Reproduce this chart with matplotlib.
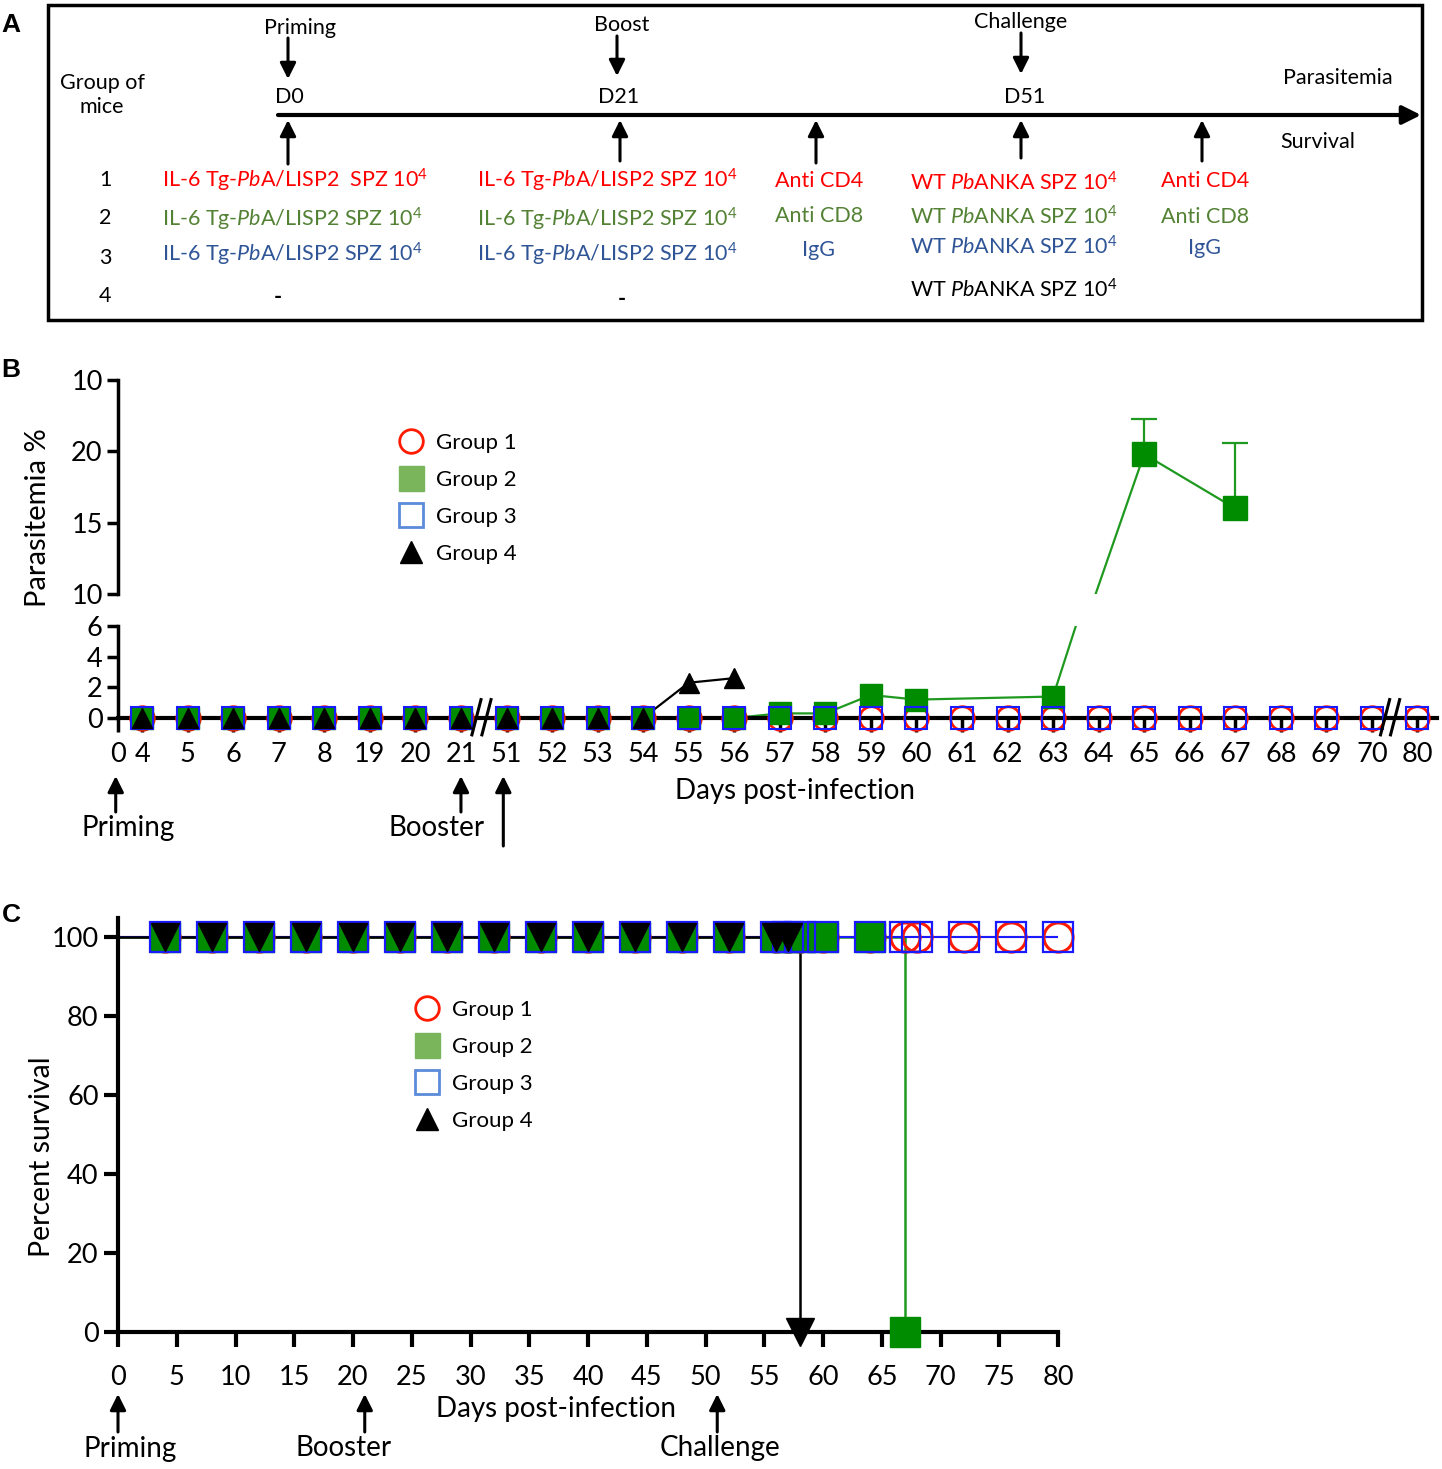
"""Prime-boost-challenge figure: protocol (A), parasitemia (B), survival (C)."""

import matplotlib
matplotlib.use("Agg")
import matplotlib.pyplot as plt
from matplotlib.lines import Line2D
from matplotlib.patches import Rectangle
from matplotlib.transforms import blended_transform_factory

plt.rcParams["font.family"] = ["Lato", "DejaVu Sans"]
plt.rcParams["mathtext.fontset"] = "custom"
plt.rcParams["mathtext.rm"] = "Lato"
plt.rcParams["mathtext.it"] = "Lato:italic"

# ---- data: panel B (parasitemia %, categorical days) ----
days_b = [4, 5, 6, 7, 8, 19, 20, 21, 51, 52, 53, 54, 55, 56, 57, 58, 59, 60,
          61, 62, 63, 64, 65, 66, 67, 68, 69, 70, 80]
g1_par = [0, 0, 0, 0, 0, 0, 0, 0, 0, 0, 0, 0, 0, 0, 0, 0, 0, 0,
          0, 0, 0, 0, 0, 0, 0, 0, 0, 0, 0]
g3_par = [0, 0, 0, 0, 0, 0, 0, 0, 0, 0, 0, 0, 0, 0, 0, 0, 0, 0,
          0, 0, 0, 0, 0, 0, 0, 0, 0, 0, 0]
g2_days = [4, 5, 6, 7, 8, 19, 20, 21, 51, 52, 53, 54, 55, 56, 57, 58, 59, 60, 63, 65, 67]
g2_par = [0, 0, 0, 0, 0, 0, 0, 0, 0, 0, 0, 0, 0, 0, 0.3, 0.3, 1.5, 1.2, 1.4, 19.8, 16.0]
g2_err_days = [65, 67]
g2_err_up = [2.5, 4.6]
g4_days = [4, 5, 6, 7, 8, 19, 20, 21, 51, 52, 53, 54, 55, 56]
g4_par = [0, 0, 0, 0, 0, 0, 0, 0, 0, 0, 0, 0, 2.3, 2.6]
upper_ticks = [10, 15, 20, 25]
upper_ticklabels = ["10", "15", "20", "10"]

# ---- data: panel C (percent survival) ----
g1_t = [0, 4, 8, 12, 16, 20, 24, 28, 32, 36, 40, 44, 48, 52, 56, 57, 58, 60, 64, 67, 68, 72, 76, 80]
g1_s = [100, 100, 100, 100, 100, 100, 100, 100, 100, 100, 100, 100, 100, 100, 100, 100, 100,
        100, 100, 100, 100, 100, 100, 100]
g3_t = [0, 4, 8, 12, 16, 20, 24, 28, 32, 36, 40, 44, 48, 52, 56, 57, 58, 60, 64, 67, 68, 72, 76, 80]
g3_s = [100, 100, 100, 100, 100, 100, 100, 100, 100, 100, 100, 100, 100, 100, 100, 100, 100,
        100, 100, 100, 100, 100, 100, 100]
g2_t = [0, 4, 8, 12, 16, 20, 24, 28, 32, 36, 40, 44, 48, 52, 56, 57, 58, 60, 64, 67]
g2_s = [100, 100, 100, 100, 100, 100, 100, 100, 100, 100, 100, 100, 100, 100, 100, 100, 100,
        100, 100, 0]
g4_t = [0, 4, 8, 12, 16, 20, 24, 28, 32, 36, 40, 44, 48, 52, 56, 57, 58]
g4_s = [100, 100, 100, 100, 100, 100, 100, 100, 100, 100, 100, 100, 100, 100, 100, 100, 0]

RED, GREEN, BLUE, BLACK = "#ff1a00", "#008c00", "#1a1aff", "black"
LINE_GREEN = "#1f991f"
TXT_RED, TXT_GREEN, TXT_BLUE = "#ff0000", "#548235", "#2f5597"

W, H = 1442, 1469
fig = plt.figure(figsize=(W / 100, H / 100), dpi=100)


def fax(x0, y0, x1, y1):
    return fig.add_axes([x0 / W, 1 - y1 / H, (x1 - x0) / W, (y1 - y0) / H])


ov = fig.add_axes([0, 0, 1, 1])
ov.set_xlim(0, W)
ov.set_ylim(H, 0)
ov.axis("off")

arrow_kw = dict(arrowstyle="-|>", color="black", lw=2.2, mutation_scale=24,
                shrinkA=0, shrinkB=0)


def arrow(x0, y0, x1, y1, trans=None, **kw):
    p = dict(arrow_kw)
    p.update(kw)
    t = trans if trans is not None else ov.transData
    ov.annotate("", xy=(x1, y1), xytext=(x0, y0), xycoords=t, textcoords=t,
                arrowprops=p)


# ================= Panel A =================
ov.add_patch(Rectangle((48, 5), 1374, 315, fill=False, lw=2.5, ec="black"))
fsA = 15.5
ov.text(102, 95, "Group of\nmice", ha="center", va="center", fontsize=fsA, linespacing=1.3)
for lab, x, y in [("Priming", 300, 28), ("Boost", 622, 25), ("Challenge", 1021, 22)]:
    ov.text(x, y, lab, ha="center", va="center", fontsize=fsA)
for lab, x in [("D0", 289), ("D21", 619), ("D51", 1025)]:
    ov.text(x, 97, lab, ha="center", va="center", fontsize=fsA)
for x, y0, y1 in [(288, 38, 79), (617, 36, 76), (1021, 33, 74)]:
    arrow(x, y0, x, y1)
arrow(278, 115, 1421, 115, lw=3, mutation_scale=28)
for x, y0 in [(288, 164), (620, 161), (816, 163), (1021, 158), (1202, 161)]:
    arrow(x, y0, x, 120)
ov.text(1338, 78, "Parasitemia", ha="center", va="center", fontsize=fsA)
ov.text(1318, 142, "Survival", ha="center", va="center", fontsize=fsA)
for lab, y in [("1", 180), ("2", 218), ("3", 258), ("4", 296)]:
    ov.text(105, y, lab, ha="center", va="center", fontsize=fsA)
tg1 = r"IL-6 Tg-$\mathit{Pb}$A/LISP2  SPZ 10$^4$"
tg = r"IL-6 Tg-$\mathit{Pb}$A/LISP2 SPZ 10$^4$"
wt = r"WT $\mathit{Pb}$ANKA SPZ 10$^4$"
ov.text(295, 180, tg1, ha="center", va="center", fontsize=fsA, color=TXT_RED)
ov.text(607, 180, tg, ha="center", va="center", fontsize=fsA, color=TXT_RED)
for (y, c) in [(219, TXT_GREEN), (254, TXT_BLUE)]:
    ov.text(292, y, tg, ha="center", va="center", fontsize=fsA, color=c)
    ov.text(607, y, tg, ha="center", va="center", fontsize=fsA, color=c)
ov.text(278, 297, "-", ha="center", va="center", fontsize=fsA, fontweight="bold")
ov.text(622, 299, "-", ha="center", va="center", fontsize=fsA, fontweight="bold")
for lab, y, c in [("Anti CD4", 181, TXT_RED), ("Anti CD8", 216, TXT_GREEN), ("IgG", 250, TXT_BLUE)]:
    ov.text(819, y, lab, ha="center", va="center", fontsize=fsA, color=c)
for lab, y, c in [("Anti CD4", 181, TXT_RED), ("Anti CD8", 217, TXT_GREEN), ("IgG", 248, TXT_BLUE)]:
    ov.text(1205, y, lab, ha="center", va="center", fontsize=fsA, color=c)
for y, c in [(183, TXT_RED), (217, TXT_GREEN), (247, TXT_BLUE), (290, "black")]:
    ov.text(1014, y, wt, ha="center", va="center", fontsize=fsA, color=c)

# ================= Panel B =================
axb = fax(118, 626, 1437, 718)
axu = fax(118, 380, 1437, 594)
pos = {d: i for i, d in enumerate(days_b)}
xmin, xmax = -0.53, 28.43
for ax in (axb, axu):
    ax.set_xlim(xmin, xmax)
    ax.patch.set_alpha(0)
    for s in ("top", "right"):
        ax.spines[s].set_visible(False)
    ax.spines["left"].set_linewidth(2.5)
    ax.tick_params(axis="y", direction="out", length=8, width=2.5, labelsize=19.5, pad=3)
axb.set_ylim(0, 6)
axu.set_ylim(10, 25)
axu.spines["bottom"].set_visible(False)
axu.set_xticks([])
axb.spines["bottom"].set_linewidth(3)
axb.set_yticks([0, 2, 4, 6])
axu.set_yticks(upper_ticks)
axu.set_yticklabels(upper_ticklabels)
axb.set_xticks([xmin] + list(range(len(days_b))))
axb.set_xticklabels(["0"] + [str(d) for d in days_b])
axb.tick_params(axis="x", direction="out", length=10, width=2.5, labelsize=19.5, pad=7)

xb1 = [pos[d] for d in days_b]
xb2 = [pos[d] for d in g2_days]
xb4 = [pos[d] for d in g4_days]
ms_b = 16
# lines (clipped by each axis -> broken segment)
for ax in (axb, axu):
    ax.plot(xb2, g2_par, color=LINE_GREEN, lw=1.6, zorder=2)
    ax.plot(xb4, g4_par, color=BLACK, lw=1.6, zorder=2)
axb.plot(xb1, g1_par, ls="none", marker="o", ms=ms_b + 1, mfc="none", mec=RED, mew=2,
         clip_on=False, zorder=3)
lo2 = [(x, y) for x, y in zip(xb2, g2_par) if y <= 6]
hi2 = [(x, y) for x, y in zip(xb2, g2_par) if y >= 10]
axb.plot([p[0] for p in lo2], [p[1] for p in lo2], ls="none", marker="s", ms=ms_b,
         mfc=GREEN, mec=GREEN, clip_on=False, zorder=4)
axu.plot([p[0] for p in hi2], [p[1] for p in hi2], ls="none", marker="s", ms=ms_b + 1,
         mfc=GREEN, mec=GREEN, zorder=4)
# one-sided (upper) error bars
ex = [pos[d] for d in g2_err_days]
ey = [g2_par[g2_days.index(d)] for d in g2_err_days]
etop = [y + e for y, e in zip(ey, g2_err_up)]
axu.vlines(ex, ey, etop, color=LINE_GREEN, lw=1.6, zorder=3)
axu.plot(ex, etop, ls="none", marker="_", ms=19, mew=1.6, color=LINE_GREEN, zorder=3,
         clip_on=False)
axb.plot(xb1, g3_par, ls="none", marker="s", ms=ms_b, mfc="none", mec=BLUE, mew=1.5,
         clip_on=False, zorder=5)
axb.plot(xb4, g4_par, ls="none", marker="^", ms=ms_b - 1, color=BLACK, clip_on=False, zorder=6)

# axis-break slashes
for bx in (7.45, 27.4):
    for off in (-0.11, 0.11):
        axb.plot([bx + off - 0.1, bx + off + 0.1], [-1.1, 1.2], color="black", lw=2.2,
                 clip_on=False, zorder=7)

fig.text(38 / W, 1 - 518 / H, "Parasitemia %", rotation=90, ha="center", va="center",
         fontsize=21)
ov.text(795, 791, "Days post-infection", ha="center", va="center", fontsize=20)
tb = blended_transform_factory(axb.transData, ov.transData)
arrow(xmin - 0.05, 812, xmin - 0.05, 776, trans=tb)
arrow(pos[21], 812, pos[21], 776, trans=tb)
arrow(pos[51] - 0.07, 846, pos[51] - 0.07, 776, trans=tb)
ov.text(128, 828, "Priming", ha="center", va="center", fontsize=20)
ov.text(437, 828, "Booster", ha="center", va="center", fontsize=20)

legend_handles = [
    Line2D([], [], ls="none", marker="o", ms=17, mfc="none", mec=RED, mew=2),
    Line2D([], [], ls="none", marker="s", ms=18, mfc="#7ab55c", mec="#7ab55c"),
    Line2D([], [], ls="none", marker="s", ms=17, mfc="none", mec="#5b8bd9", mew=2),
    Line2D([], [], ls="none", marker="^", ms=16, color=BLACK),
]
legend_labels = ["Group 1", "Group 2", "Group 3", "Group 4"]
leg_kw = dict(frameon=False, fontsize=16, handlelength=1.0, handletextpad=0.6,
              labelspacing=0.76, loc="upper left", bbox_transform=fig.transFigure,
              borderpad=0)
axu.legend(legend_handles, legend_labels, bbox_to_anchor=(389 / W, 1 - 422 / H), **leg_kw)

# ================= Panel C =================
axc = fax(118, 918, 1058, 1332)
axc.set_xlim(0, 80)
axc.set_ylim(0, 104.8)
axc.patch.set_alpha(0)
for s in ("top", "right"):
    axc.spines[s].set_visible(False)
axc.spines["left"].set_linewidth(3)
axc.spines["bottom"].set_linewidth(3)
axc.set_xticks(list(range(0, 81, 5)))
axc.set_yticks([0, 20, 40, 60, 80, 100])
axc.tick_params(axis="x", direction="out", length=11, width=3, labelsize=19.5, pad=13)
axc.tick_params(axis="y", direction="out", length=10, width=3, labelsize=19.5, pad=4)
ms_c = 21
axc.step(g1_t, g1_s, where="post", color=RED, lw=1.5, zorder=2)
axc.step(g2_t, g2_s, where="post", color=LINE_GREEN, lw=1.8, zorder=2)
axc.step(g3_t, g3_s, where="post", color=BLUE, lw=1.5, zorder=2.1)
axc.step(g4_t, g4_s, where="post", color=BLACK, lw=1.8, zorder=2.2)
axc.plot(g1_t[1:], g1_s[1:], ls="none", marker="o", ms=ms_c, mfc="none", mec=RED, mew=2.2,
         clip_on=False, zorder=3)
axc.plot(g2_t[1:], g2_s[1:], ls="none", marker="s", ms=ms_c, mfc=GREEN, mec=GREEN,
         clip_on=False, zorder=4)
axc.plot(g3_t[1:], g3_s[1:], ls="none", marker="s", ms=ms_c, mfc="none", mec=BLUE, mew=1.6,
         clip_on=False, zorder=5)
axc.plot(g4_t[1:], g4_s[1:], ls="none", marker="v", ms=ms_c - 1, color=BLACK,
         clip_on=False, zorder=6)
fig.text(42 / W, 1 - 1157 / H, "Percent survival", rotation=90, ha="center", va="center",
         fontsize=20.5)
ov.text(556, 1409, "Days post-infection", ha="center", va="center", fontsize=20)
tc = blended_transform_factory(axc.transData, ov.transData)
for d, lab in [(0, "Priming"), (21, "Booster"), (51, "Challenge")]:
    arrow(d, 1432, d, 1394, trans=tc)
ov.text(130, 1449, "Priming", ha="center", va="center", fontsize=20)
ov.text(344, 1448, "Booster", ha="center", va="center", fontsize=20)
ov.text(720, 1448, "Challenge", ha="center", va="center", fontsize=20)
axc.legend(legend_handles, legend_labels, bbox_to_anchor=(405 / W, 1 - 989 / H), **leg_kw)

# panel letters
for lab, y in [("A", 25), ("B", 370), ("C", 915)]:
    ov.text(11, y, lab, ha="center", va="center", fontsize=19, fontweight="bold",
            family=["Liberation Sans", "DejaVu Sans"])

fig.savefig("out.png", dpi=100)
